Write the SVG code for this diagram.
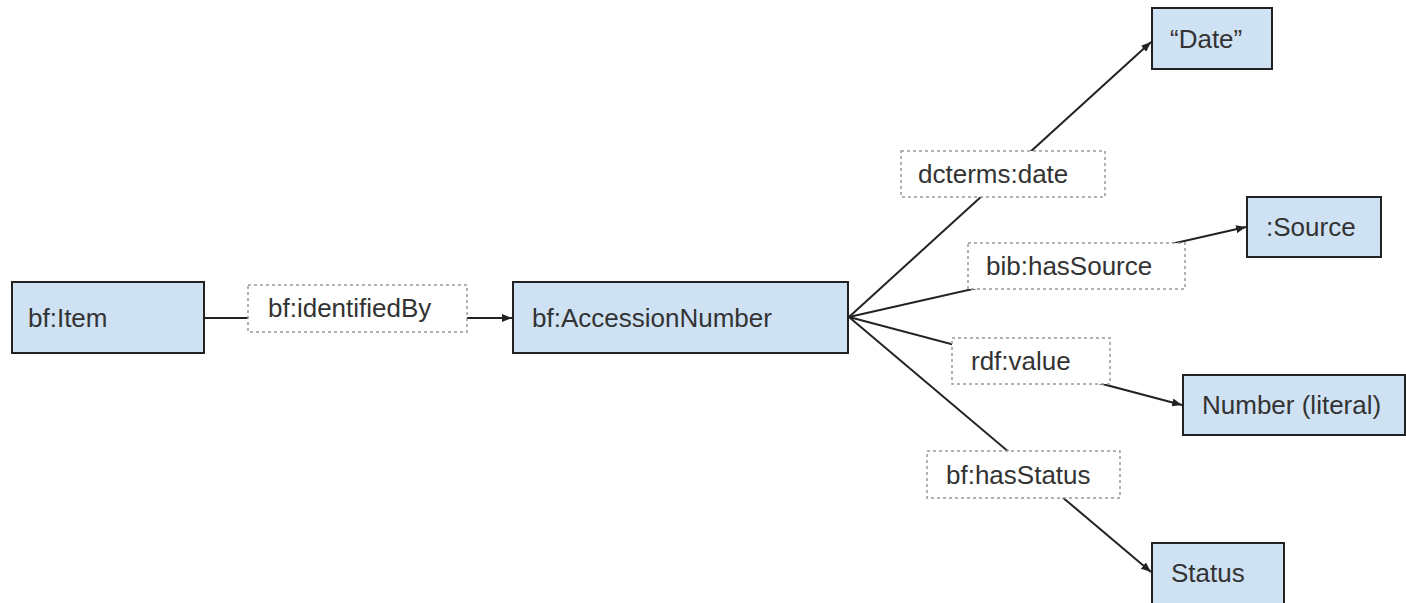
<svg xmlns="http://www.w3.org/2000/svg" width="1406" height="603" viewBox="0 0 1406 603">
<defs>
<marker id="arr" viewBox="0 0 10 8" refX="10" refY="4" markerWidth="10" markerHeight="8" markerUnits="userSpaceOnUse" orient="auto">
<path d="M0,0 L10,4 L0,8 Z" fill="#222"/>
</marker>
<style>
.node rect{fill:#cfe2f3;stroke:#222;stroke-width:2}
.lbl rect{fill:#fff;stroke:#999;stroke-width:1.5;stroke-dasharray:3 3}
text{font-family:"Liberation Sans",Arial,sans-serif;font-size:26px;fill:#333}
.conn line{stroke:#222;stroke-width:2;fill:none}
</style>
</defs>
<rect width="1406" height="603" fill="#fff"/>
<g id="connectors" class="conn">
<line x1="204" y1="318" x2="512" y2="318" marker-end="url(#arr)"/>
<line x1="849" y1="317" x2="1151" y2="42" marker-end="url(#arr)"/>
<line x1="849" y1="317" x2="1246" y2="227" marker-end="url(#arr)"/>
<line x1="849" y1="317" x2="1182" y2="405" marker-end="url(#arr)"/>
<line x1="849" y1="317" x2="1151" y2="572" marker-end="url(#arr)"/>
</g>
<g id="lbl-identifiedBy" class="lbl"><rect x="248" y="285" width="219" height="47"/><text x="268" y="317">bf:identifiedBy</text></g>
<g id="lbl-date" class="lbl"><rect x="901" y="151" width="204" height="46"/><text x="918" y="183">dcterms:date</text></g>
<g id="lbl-source" class="lbl"><rect x="968" y="243" width="217" height="46"/><text x="986" y="275">bib:hasSource</text></g>
<g id="lbl-value" class="lbl"><rect x="952" y="338" width="158" height="46"/><text x="971" y="370">rdf:value</text></g>
<g id="lbl-status" class="lbl"><rect x="927" y="451" width="193" height="47"/><text x="946" y="484">bf:hasStatus</text></g>
<g id="node-item" class="node"><rect x="12" y="282" width="192" height="71"/><text x="28" y="327">bf:Item</text></g>
<g id="node-accession" class="node"><rect x="513" y="282" width="335" height="71"/><text x="532" y="327">bf:AccessionNumber</text></g>
<g id="node-date" class="node"><rect x="1152" y="8" width="120" height="61"/><text x="1170" y="48">“Date”</text></g>
<g id="node-source" class="node"><rect x="1247" y="197" width="134" height="60"/><text x="1266" y="236">:Source</text></g>
<g id="node-number" class="node"><rect x="1183" y="375" width="222" height="60"/><text x="1202" y="414">Number (literal)</text></g>
<g id="node-status" class="node"><rect x="1152" y="543" width="132" height="62"/><text x="1171" y="582">Status</text></g>
</svg>
